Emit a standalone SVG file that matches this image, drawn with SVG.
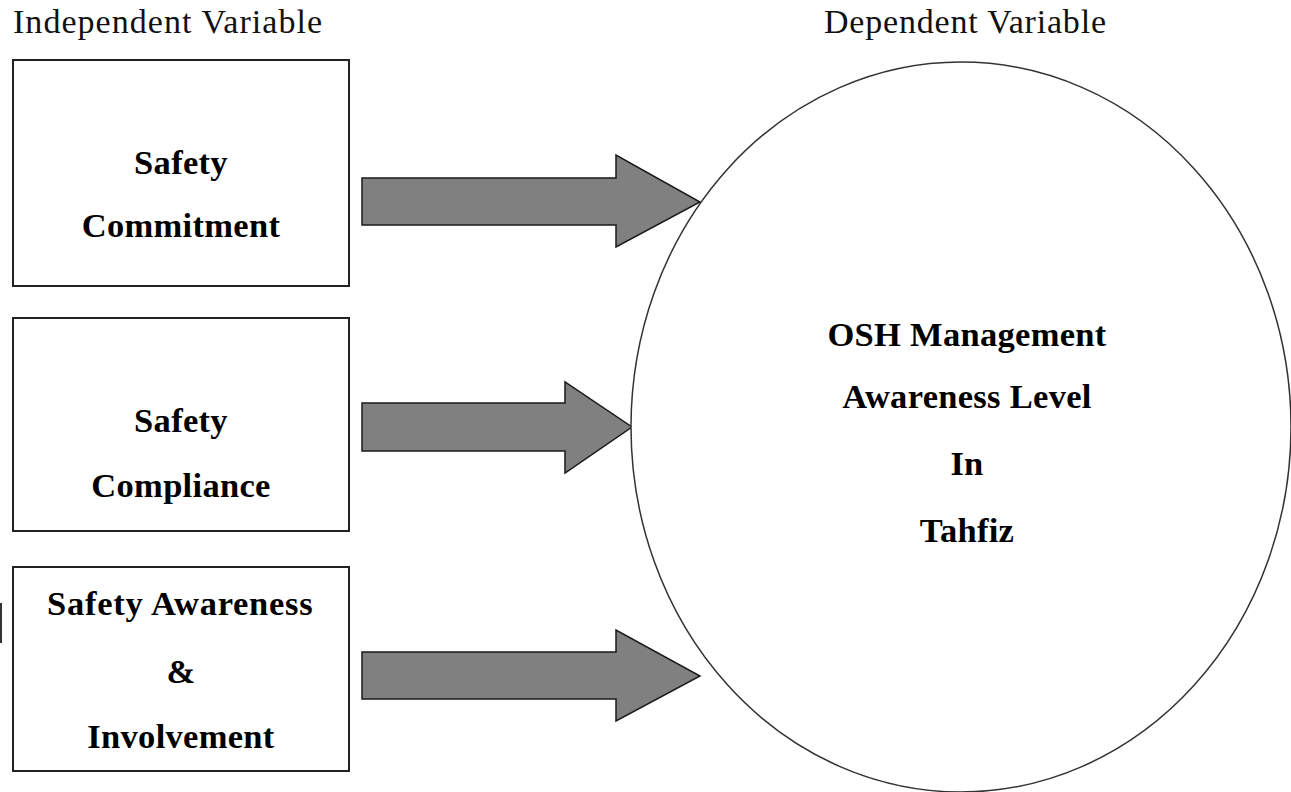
<svg xmlns="http://www.w3.org/2000/svg" width="1291" height="792" viewBox="0 0 1291 792">
<style>
.box{fill:#fff;stroke:#222;stroke-width:2}
.arrow{fill:#808080;stroke:#1a1a1a;stroke-width:1.5;stroke-linejoin:miter}
.lbl{font-family:"Liberation Serif","Times New Roman",serif;font-size:34.5px;font-weight:bold;fill:#000;text-anchor:middle;letter-spacing:0.3px}
.hdr{font-family:"Liberation Serif","Times New Roman",serif;font-size:34px;fill:#111}
</style>
<rect width="1291" height="792" fill="#fff"/>
<text class="hdr" x="13" y="33" textLength="309" lengthAdjust="spacing">Independent Variable</text>
<text class="hdr" x="824" y="33" textLength="282" lengthAdjust="spacing">Dependent Variable</text>
<rect x="0" y="603" width="2" height="40" fill="#333"/>
<g id="connectors">
<polygon class="arrow" points="362,178 616,178 616,155 700,202 616,247 616,225 362,225"/>
<polygon class="arrow" points="362,403 565,403 565,382 632,427 565,473 565,451 362,451"/>
<polygon class="arrow" points="362,652 616,652 616,630 700,676 616,721 616,699 362,699"/>
</g>
<g id="dv">
<ellipse cx="961" cy="427" rx="330" ry="365" fill="#fff" stroke="#333" stroke-width="1.5"/>
<text class="lbl" x="967" y="346">OSH Management</text>
<text class="lbl" x="967" y="408">Awareness Level</text>
<text class="lbl" x="967" y="475">In</text>
<text class="lbl" x="967" y="542">Tahfiz</text>
</g>
<g id="commitment">
<rect class="box" x="13" y="60" width="336" height="226"/>
<text class="lbl" x="181" y="174">Safety</text>
<text class="lbl" x="181" y="237">Commitment</text>
</g>
<g id="compliance">
<rect class="box" x="13" y="318" width="336" height="213"/>
<text class="lbl" x="181" y="432">Safety</text>
<text class="lbl" x="181" y="497">Compliance</text>
</g>
<g id="involvement">
<rect class="box" x="13" y="567" width="336" height="204"/>
<text class="lbl" x="180" y="615" textLength="266" lengthAdjust="spacing">Safety Awareness</text>
<text class="lbl" x="181" y="683">&amp;</text>
<text class="lbl" x="181" y="748">Involvement</text>
</g>
</svg>
